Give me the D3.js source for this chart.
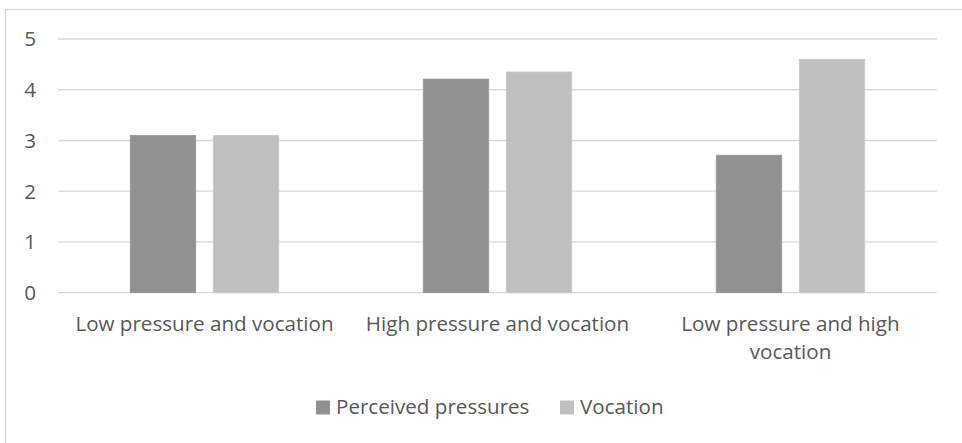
<!DOCTYPE html>
<html>
<head>
<meta charset="utf-8">
<script src="https://cdn.jsdelivr.net/npm/d3@7"></script>
<style>
  html, body { margin: 0; padding: 0; background: #fff; }
  svg { display: block; }
  text { font-family: "Open Sans", "Noto Sans", sans-serif; fill: #595959; }
</style>
</head>
<body>
<svg id="chart" width="962" height="443"></svg>
<script>
// Chart data
const categories = [
  ["Low pressure and vocation"],
  ["High pressure and vocation"],
  ["Low pressure and high", "vocation"]
];
const seriesNames = ["Perceived pressures", "Vocation"];
const perceivedPressures = [3.1, 4.21, 2.71];
const vocation = [3.1, 4.35, 4.6];
const yTicks = [0, 1, 2, 3, 4, 5];

const seriesValues = [perceivedPressures, vocation];
const colors = ["#919191", "#bfbfbf"];
const strokes = ["#9a9a9a", "#cbcbcb"];
const fontSize = 20.6;

const svg = d3.select("#chart");
const W = 962, H = 443;

// Plot area
const plotLeft = 58, plotRight = 937, plotTop = 39, plotBottom = 292.7;

// Chart frame (only the top and left edges fall inside the view)
svg.append("rect")
  .attr("x", 5.5).attr("y", 9.5)
  .attr("width", W + 10).attr("height", H + 10)
  .attr("fill", "none").attr("stroke", "#d9d9d9").attr("stroke-width", 1.3);

const y = d3.scaleLinear().domain([0, 5]).range([plotBottom, plotTop]);
const x0 = d3.scaleBand().domain(d3.range(categories.length)).range([plotLeft, plotRight]).padding(0);
const groupW = x0.bandwidth() * 0.507;
const x1 = d3.scaleBand().domain(d3.range(seriesNames.length)).range([0, groupW]).paddingInner(0.211).paddingOuter(0);

// Gridlines
svg.append("g")
  .selectAll("line").data(yTicks).join("line")
  .attr("x1", plotLeft).attr("x2", plotRight)
  .attr("y1", d => y(d)).attr("y2", d => y(d))
  .attr("stroke", "#d9d9d9").attr("stroke-width", 1.3);

// Y tick labels
svg.append("g")
  .selectAll("text").data(yTicks).join("text")
  .attr("x", 36).attr("y", d => y(d))
  .attr("dy", "0.36em")
  .attr("text-anchor", "end")
  .attr("font-size", fontSize)
  .text(d => d);

// Bars
const groups = svg.append("g")
  .selectAll("g").data(categories).join("g")
  .attr("transform", (d, i) => `translate(${x0(i) + (x0.bandwidth() - groupW) / 2},0)`);

groups.selectAll("rect")
  .data((d, i) => seriesValues.map((vals, s) => ({ s, v: vals[i] })))
  .join("rect")
  .attr("x", d => x1(d.s))
  .attr("width", x1.bandwidth())
  .attr("y", d => y(d.v))
  .attr("height", d => y(0) - y(d.v))
  .attr("fill", d => colors[d.s])
  .attr("stroke", d => strokes[d.s])
  .attr("stroke-width", 0.8);

// Category labels
const catLabels = svg.append("g")
  .selectAll("text").data(categories).join("text")
  .attr("x", (d, i) => x0(i) + x0.bandwidth() / 2)
  .attr("y", 331)
  .attr("text-anchor", "middle")
  .attr("font-size", fontSize);
catLabels.selectAll("tspan").data(d => d).join("tspan")
  .attr("x", function () { return this.parentNode.getAttribute("x"); })
  .attr("dy", (d, j) => j === 0 ? 0 : 28)
  .text(d => d);

// Legend
const legendItems = [
  { name: seriesNames[0], sx: 316, tx: 336 },
  { name: seriesNames[1], sx: 560, tx: 580 }
];
const lg = svg.append("g");
lg.selectAll("rect").data(legendItems).join("rect")
  .attr("x", d => d.sx).attr("y", 400.5)
  .attr("width", 14).attr("height", 14)
  .attr("fill", (d, i) => colors[i]);
lg.selectAll("text").data(legendItems).join("text")
  .attr("x", d => d.tx).attr("y", 413.5)
  .attr("font-size", fontSize)
  .text(d => d.name);
</script>
</body>
</html>
